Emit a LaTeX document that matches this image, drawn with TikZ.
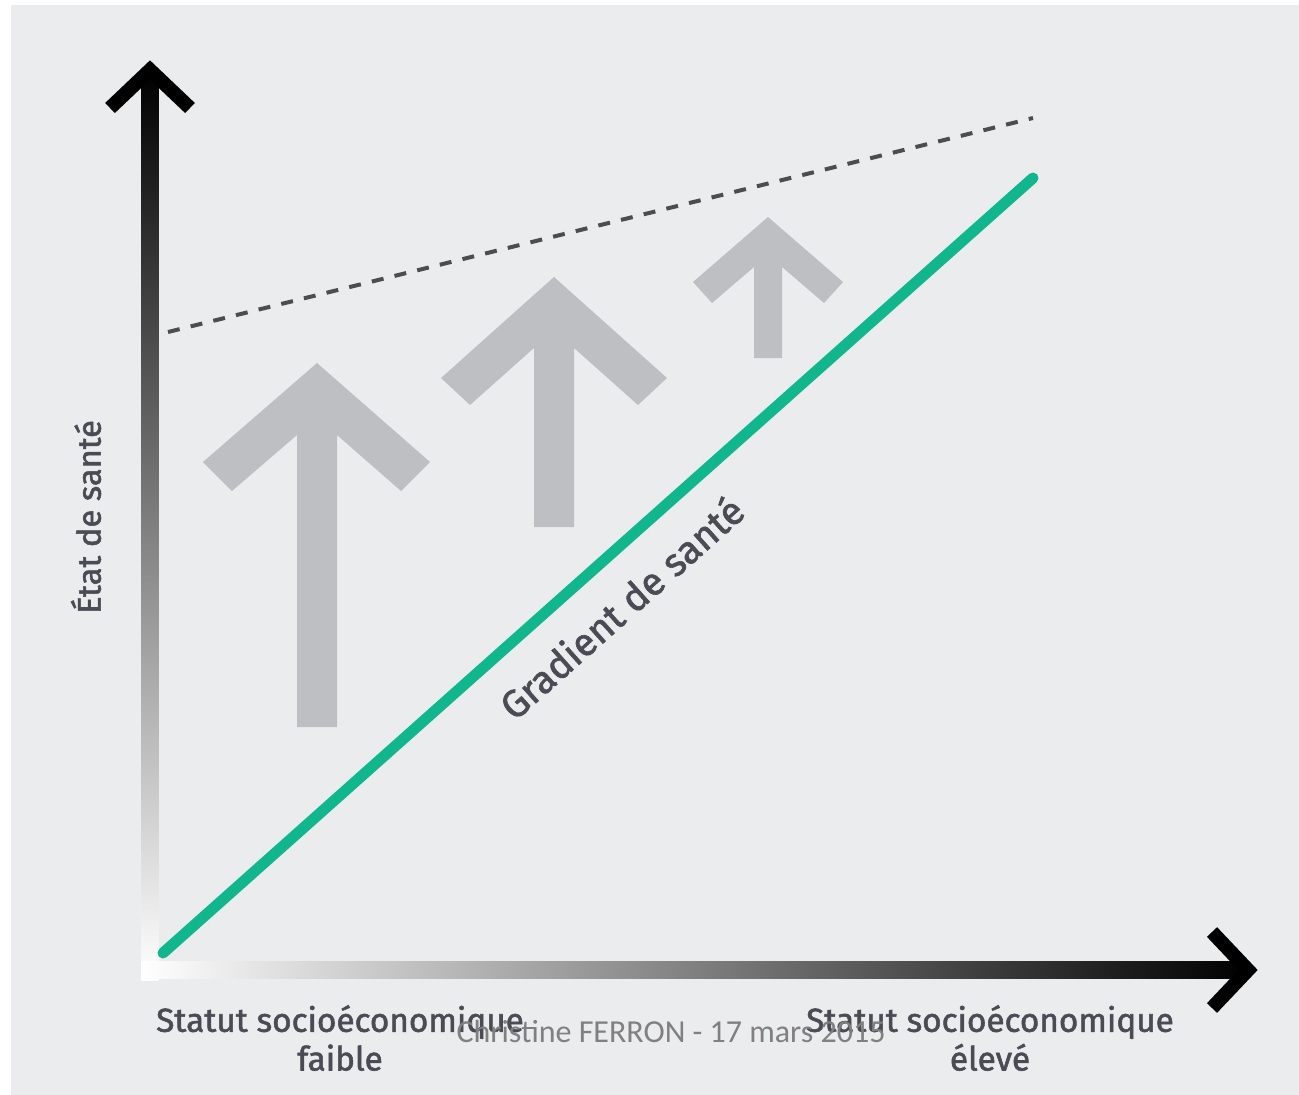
\documentclass[tikz,border=0pt]{standalone}
\usepackage{xcolor}
\usepackage{fontspec}
\usepackage{tikz}
\setmainfont{Fira Sans}
\newfontfamily\labelfont{Fira Sans}[FakeBold=1.6]
\newfontfamily\footerfont{Carlito}

\definecolor{panelgray}{RGB}{235,236,238}
\definecolor{arrowgray}{RGB}{190,191,195}
\definecolor{gradgreen}{RGB}{16,182,140}
\definecolor{labelgray}{RGB}{75,75,85}

\tikzset{
  axishead/.style={draw=black, line width=10.5pt, miter limit=10},
  upbox/.style={fill=arrowgray},
  axislabel/.style={inner sep=0pt, text=labelgray, font=\labelfont\fontsize{25}{29}\selectfont, align=center}
}

\begin{document}
\begin{tikzpicture}[x=0.75pt,y=0.75pt,yscale=-1,xscale=1]
\useasboundingbox (0,0) rectangle (1299,1095);

%Shape: Rectangle (panel)
\fill [panelgray] (11,5) rectangle (1299,1095);

%Straight Lines (upper dashed bound)
\draw [color={rgb, 255:red, 77; green, 77; blue, 80 }, line width=3pt, dash pattern={on 9pt off 8.5pt}] (168,332) -- (1033,118) ;

%Shape: Arrow (large)
\fill [upbox] (317,363) -- (430,462) -- (401,491) -- (337,435) -- (337,727) -- (297,727) -- (297,435) -- (232,491) -- (203,462) -- cycle ;
%Shape: Arrow (middle)
\fill [upbox] (554,277) -- (667,378) -- (638,405) -- (574,348) -- (574,527) -- (534,527) -- (534,348) -- (470,405) -- (441,378) -- cycle ;
%Shape: Arrow (small)
\fill [upbox] (768,217) -- (843,282) -- (824,303) -- (782,267) -- (782,358) -- (754,358) -- (754,267) -- (712,303) -- (693,282) -- cycle ;

%Shape: Rectangle (y axis)
\shade [bottom color=white, middle color=black!68, top color=black] (141.5,980) rectangle (158.5,72) ;
%Shape: Rectangle (x axis)
\shade [left color=white, middle color=black!72, right color=black] (141,961.5) rectangle (1248,978.5) ;
%Straight Lines (axis heads)
\draw [axishead] (110,108) -- (150,70) -- (190,108) ;
\draw [axishead] (1212,932) -- (1248,970) -- (1212,1008) ;

%Straight Lines (gradient)
\coordinate (gLow) at (163,953) ;
\coordinate (gHigh) at (1033,178) ;
\draw [color=gradgreen, line width=8.25pt, line cap=round] (gLow) -- (gHigh) ;

% Text Node
\node (yLabel) [axislabel, rotate=90, font=\labelfont\fontsize{24.5}{28}\selectfont] at (86,517) {État de santé};
% Text Node
\node (gLabel) [axislabel, rotate=41.7, font=\labelfont\fontsize{29}{33}\selectfont] at (621,607) {Gradient de santé};
% Text Node
\node (lowLabel) [axislabel] at (340,1038) {Statut socioéconomique\\faible};
% Text Node
\node (highLabel) [axislabel] at (990,1038) {Statut socioéconomique\\élevé};
% Text Node
\node (footer) [inner sep=0pt, text={rgb,255:red,128;green,128;blue,128}, font=\footerfont\fontsize{24}{28}\selectfont] at (671,1031) {Christine FERRON - 17 mars 2015};

\end{tikzpicture}
\end{document}
